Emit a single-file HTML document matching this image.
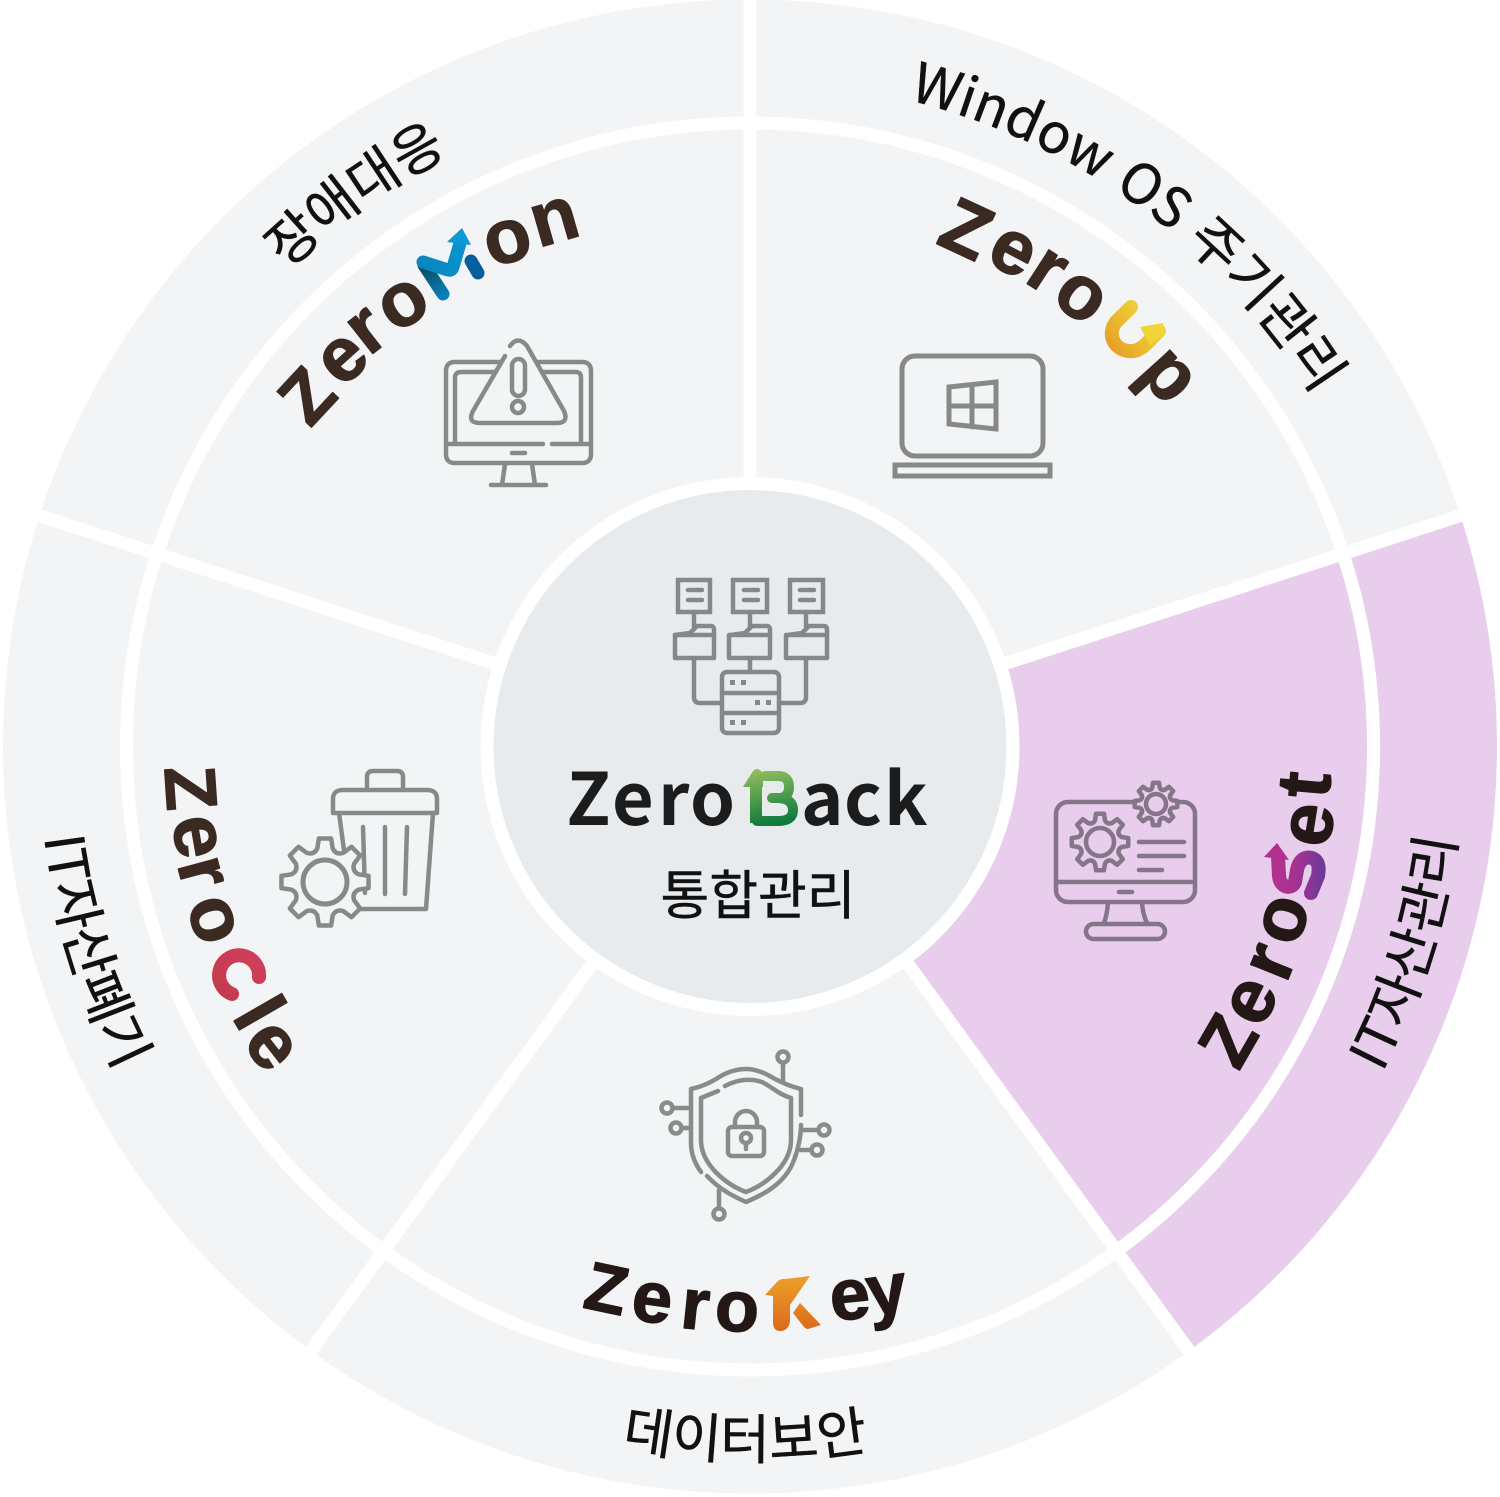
<!DOCTYPE html>
<html lang="ko">
<head>
<meta charset="utf-8">
<title>ZeroBack 통합관리</title>
<style>
html,body{margin:0;padding:0;background:#fff;width:1500px;height:1497px;overflow:hidden}
svg{display:block}
.lab{font-family:"Noto Sans CJK KR","Liberation Sans",sans-serif;font-weight:400;fill:#111;stroke:#111;stroke-width:.5}
.l{font-family:"Liberation Sans",sans-serif;font-weight:700;text-anchor:middle;stroke-width:1.4;stroke-linejoin:round}
.mo{fill:#3a2a22;stroke:#3a2a22;font-size:76px}
.ke{fill:#231815;stroke:#231815;font-size:72px}
.se{fill:#231815;stroke:#231815;font-size:76px}
.cl{fill:#3a2a22;stroke:#3a2a22;font-size:76px}
.ic{fill:none;stroke:#888a8a;stroke-width:4.5;stroke-linecap:round;stroke-linejoin:round}
.ip{fill:none;stroke:#857589;stroke-width:4.5;stroke-linecap:round;stroke-linejoin:round}
</style>
</head>
<body>
<svg width="1500" height="1497" viewBox="0 0 1500 1497" xmlns="http://www.w3.org/2000/svg">
<defs>
<path id="top665" d="M85,746 A665,665 0 0 1 1415,746"/>
<path id="top664" d="M86,746 A664,664 0 0 1 1414,746"/>
<path id="bot712" d="M38,746 A712,712 0 0 0 1462,746"/>
<path id="bot713" d="M37,746 A713,713 0 0 0 1463,746"/>
<path id="gear" vector-effect="non-scaling-stroke" d="M-17.5,-76 L-13.9,-99 L13.9,-99 L17.5,-76 Q25.3,-61 41.3,-66.1 L60.2,-79.9 L79.9,-60.2 L66.1,-41.3 Q61,-25.3 76,-17.5 L99,-13.9 L99,13.9 L76,17.5 Q61,25.3 66.1,41.3 L79.9,60.2 L60.2,79.9 L41.3,66.1 Q25.3,61 17.5,76 L13.9,99 L-13.9,99 L-17.5,76 Q-25.3,61 -41.3,66.1 L-60.2,79.9 L-79.9,60.2 L-66.1,41.3 Q-61,25.3 -76,17.5 L-99,13.9 L-99,-13.9 L-76,-17.5 Q-61,-25.3 -66.1,-41.3 L-79.9,-60.2 L-60.2,-79.9 L-41.3,-66.1 Q-25.3,-61 -17.5,-76Z"/>
<linearGradient id="gM" gradientUnits="userSpaceOnUse" x1="425" y1="265" x2="470" y2="235"><stop offset="0" stop-color="#0a86bf"/><stop offset="1" stop-color="#0b98d6"/></linearGradient>
<linearGradient id="gM2" gradientUnits="userSpaceOnUse" x1="424" y1="265" x2="443" y2="297"><stop offset="0" stop-color="#0c4a62"/><stop offset="1" stop-color="#0880bd"/></linearGradient>
<linearGradient id="gU" gradientUnits="userSpaceOnUse" x1="1112" y1="350" x2="1160" y2="315"><stop offset="0" stop-color="#e6a027"/><stop offset="1" stop-color="#f0de38"/></linearGradient>
<linearGradient id="gS" gradientUnits="userSpaceOnUse" x1="1270" y1="870" x2="1325" y2="870"><stop offset="0" stop-color="#b8318e"/><stop offset=".5" stop-color="#a23392"/><stop offset="1" stop-color="#693b98"/></linearGradient>
<linearGradient id="gB" gradientUnits="userSpaceOnUse" x1="760" y1="770" x2="770" y2="824"><stop offset="0" stop-color="#90bd5e"/><stop offset="1" stop-color="#0f7a3c"/></linearGradient>
<linearGradient id="gK" gradientUnits="userSpaceOnUse" x1="790" y1="1276" x2="790" y2="1330"><stop offset="0" stop-color="#ee9f2c"/><stop offset="1" stop-color="#dc6a1a"/></linearGradient>
<linearGradient id="gC" gradientUnits="userSpaceOnUse" x1="215" y1="1000" x2="265" y2="955"><stop offset="0" stop-color="#c23a4e"/><stop offset="1" stop-color="#d13f5a"/></linearGradient>
</defs>

<!-- discs -->
<circle cx="750" cy="746.5" r="747" fill="#f2f4f6"/>
<path d="M750,746.5 L1460.4,515.7 A747,747 0 0 1 1189,1350.8 Z" fill="#e8cdec"/>
<circle cx="750" cy="746.5" r="623.5" fill="none" stroke="#fff" stroke-width="13"/>
<g stroke="#fff" stroke-width="13">
<line x1="750" y1="746.5" x2="750" y2="-5"/>
<line x1="750" y1="746.5" x2="1470" y2="512.5"/>
<line x1="750" y1="746.5" x2="1195" y2="1359"/>
<line x1="750" y1="746.5" x2="305" y2="1359"/>
<line x1="750" y1="746.5" x2="30" y2="512.5"/>
</g>
<circle cx="750" cy="746.5" r="263" fill="#e8ebee" stroke="#fff" stroke-width="13"/>

<!-- outer labels -->
<g transform="rotate(36 750 746)"><text class="lab" font-size="55" text-anchor="middle"><textPath href="#top665" startOffset="50%">Window OS 주기관리</textPath></text></g>
<g transform="rotate(-35.6 750 746)"><text class="lab" font-size="54" text-anchor="middle"><textPath href="#top664" startOffset="50%">장애대응</textPath></text></g>
<g transform="rotate(-72.6 750 746)"><text class="lab" font-size="54" text-anchor="middle"><textPath href="#bot712" startOffset="50%">IT자산관리</textPath></text></g>
<g transform="rotate(72.7 750 746)"><text class="lab" font-size="54" text-anchor="middle"><textPath href="#bot712" startOffset="50%">IT자산폐기</textPath></text></g>
<g transform="rotate(0.4 750 746)"><text class="lab" font-size="54" text-anchor="middle"><textPath href="#bot713" startOffset="50%">데이터보안</textPath></text></g>

<!-- center -->
<g font-family="'Noto Sans CJK KR','Liberation Sans',sans-serif" font-weight="700" font-size="72" fill="#1c1c1c">
<text x="566.500" y="825">Z</text><text x="612" y="825">e</text><text x="658" y="825">r</text><text x="690" y="825">o</text>
<text x="801" y="825">a</text><text x="844" y="825">c</text><text x="884" y="825">k</text>
</g>
<text class="lab" x="758" y="914" font-size="53" text-anchor="middle">통합관리</text>
<g>
<path d="M765,776 L778,776 Q789,776 789,787 Q789,798 778,798 L772,798 M776,798 Q793,798 793,810 Q793,821 778,821 L757,821" fill="none" stroke="url(#gB)" stroke-width="10" stroke-linejoin="round" stroke-linecap="round"/>
<path d="M743,787 L753,771 Q757,767 761,771 L763,774 L763,787Z" fill="url(#gB)"/>
<rect x="750" y="785" width="12" height="38" fill="url(#gB)"/>
</g>
<!-- network icon -->
<g class="ic" style="stroke:#858789;stroke-width:4.5">
<path d="M678,580H710V612H678Z M733,580H767V612H733Z M790,580H823V612H790Z" stroke-linejoin="miter"/>
<path d="M688,590H702M688,600H702M744,590H758M744,600H758M800,590H814M800,600H814"/>
<path d="M675,635H714V658H675Z M729,635H770V658H729Z M786,635H827V658H786Z"/>
<path d="M675,635L690,633L697,626H711Q714,626 714,630V635M731,635L745,633L752,626H767Q770,626 770,630V635M788,635L802,633L809,626H824Q827,626 827,630V635"/>
<path d="M694,612V626M750,612V626M806,612V626"/>
<path d="M694,658V697Q694,703 700,703H721M806,658V697Q806,703 800,703H779M750,658V672"/>
<rect x="722" y="672" width="57" height="61" rx="5"/>
<path d="M722,693H779M722,713H779"/>
</g>
<g fill="#858789"><rect x="730" y="680" width="5" height="5"/><rect x="741" y="680" width="5" height="5"/><rect x="755" y="700" width="5" height="5"/><rect x="766" y="700" width="5" height="5"/><rect x="730" y="720" width="5" height="5"/><rect x="741" y="720" width="5" height="5"/></g>

<!-- ZeroMon -->
<text class="l mo" transform="translate(306 395) rotate(-47)" y="26" style="font-size:72px">Z</text>
<text class="l mo" transform="translate(344 360) rotate(-42)" y="20">e</text>
<text class="l mo" transform="translate(368 332) rotate(-38)" y="20">r</text>
<text class="l mo" transform="translate(404 305) rotate(-32)" y="20">o</text>
<text class="l mo" transform="translate(508 242) rotate(-17)" y="20">o</text>
<text class="l mo" transform="translate(555 222) rotate(-16)" y="20">n</text>
<g fill="none" stroke-linecap="round" stroke-linejoin="round" stroke-width="13">
<path d="M424,265 L443,294" stroke="url(#gM2)"/>
<path d="M423,262 L448,270 Q452,271 453,267 L461,240" stroke="url(#gM)"/>
<path d="M471,261 L478,273" stroke="#045f9c"/>
</g>
<polygon points="447,242 462,228 471,245" fill="#0b98d6"/>
<!-- alert monitor -->
<g class="ic">
<path d="M500,362H455Q446,362 446,371V454Q446,463 455,463H582Q591,463 591,454V371Q591,362 582,362H537"/>
<path d="M494,372H461Q455,372 455,378V443M543,372H576Q581,372 581,378V443"/>
<path d="M447,444H543M552,444H590"/>
<path d="M505,464L502,485M532,464L535,485M491,485H546M512,453H525"/>
<path d="M505,356L473,411Q467,423 480,423H557Q569,423 564,411L527,346Q518,335 510,346"/>
<rect x="512" y="359" width="13" height="37" rx="6.5"/>
<circle cx="518" cy="407" r="6"/>
</g>

<!-- ZeroUp -->
<text class="l mo" transform="translate(967 228) rotate(25)" y="27" style="font-size:76px">Z</text>
<text class="l mo" transform="translate(1012 253) rotate(28)" y="20">e</text>
<text class="l mo" transform="translate(1046 272) rotate(33)" y="20">r</text>
<text class="l mo" transform="translate(1080 298) rotate(36)" y="20">o</text>
<text class="l mo" transform="translate(1167 377) rotate(48)" y="20">p</text>
<path d="M1131,307 L1116,322 C1108,332 1112,346 1124,350 C1133,353 1140,350 1146,344 L1159,331" fill="none" stroke="url(#gU)" stroke-width="14" stroke-linecap="round" stroke-linejoin="round"/>
<polygon points="1140,327 1163,323 1165,333 1150,345" fill="#efd636"/>
<!-- laptop -->
<g class="ic" style="stroke-width:5;stroke:#878888">
<rect x="902" y="356" width="141" height="100" rx="13"/>
<rect x="895" y="465" width="155" height="11" stroke-linejoin="miter"/>
<path d="M949,387L996,382V429L949,424Z M972,385V427 M949,406H996" stroke-linejoin="miter"/>
</g>

<!-- ZeroSet -->
<text class="l se" transform="translate(1227 1040) rotate(-60)" y="26" style="font-size:72px">Z</text>
<text class="l se" transform="translate(1253 1002) rotate(-64)" y="20">e</text>
<text class="l se" transform="translate(1273 963) rotate(-68)" y="20">r</text>
<text class="l se" transform="translate(1285 920) rotate(-74)" y="20">o</text>
<text class="l se" transform="translate(1312 825) rotate(-81)" y="20">e</text>
<text class="l se" transform="translate(1307 785) rotate(-85)" y="23">t</text>
<path d="M1278,857 L1279,876 C1280,888 1292,890 1295,882 L1297,870 C1299,860 1305,856 1312,858 C1320,861 1319,870 1318,876 L1311,893" fill="none" stroke="url(#gS)" stroke-width="14" stroke-linecap="round" stroke-linejoin="round"/>
<polygon points="1264,857 1277,843 1289,860" fill="#b0318f"/>
<!-- settings monitor -->
<g class="ip">
<rect x="1056" y="802" width="139" height="100" rx="12"/>
<path d="M1056,882H1195M1119,892H1132"/>
<path d="M1108,903Q1107,915 1104,923M1142,903Q1143,915 1147,923"/>
<rect x="1086" y="924" width="79" height="15" rx="7.5"/>
<path d="M1139,842H1184M1139,856H1184M1139,870H1162"/>
<g transform="translate(1100 842) scale(.285)"><use href="#gear"/></g>
<circle cx="1100" cy="842" r="14"/>
<g transform="translate(1156 804) scale(.215)" style="fill:#e8cdec"><use href="#gear"/></g>
<circle cx="1156" cy="804" r="10"/>
</g>

<!-- ZeroKey -->
<text class="l ke" transform="translate(607 1287) rotate(12)" y="25" style="font-size:68px">Z</text>
<text class="l ke" transform="translate(652 1303) rotate(8)" y="19">e</text>
<text class="l ke" transform="translate(695 1310) rotate(6)" y="19">r</text>
<text class="l ke" transform="translate(737 1312) rotate(3)" y="19">o</text>
<text class="l ke" transform="translate(850 1300) rotate(-6)" y="19">e</text>
<text class="l ke" transform="translate(887 1295) rotate(-8)" y="19">y</text>
<g fill="url(#gK)">
<path d="M765,1295 L776,1283 Q780,1278 785,1279 L810,1276 L790,1305 L790,1322 Q788,1331 780,1331 Q773,1331 773,1322 L773,1296Z"/>
<path d="M793,1313 L800,1303 L821,1325 L808,1329 Q806,1329 804,1327Z"/>
</g>
<!-- shield -->
<g class="ic" style="stroke:#8a8c8c">
<path d="M691,1108V1089C700,1087 708,1084 716,1079C725,1073 736,1069 746,1069C756,1069 765,1073 775,1079C785,1084 790,1086 801,1089V1115"/>
<path d="M691,1108V1143C691,1155 696,1165 701,1172"/>
<path d="M707,1176C720,1190 735,1197 746,1202C760,1196 785,1185 794,1160C800,1145 801,1130 801,1125"/>
<path d="M725,1086C738,1079 750,1078 762,1082C772,1087 780,1095 791,1098V1140C791,1165 765,1185 746,1192C727,1185 701,1165 701,1140V1098L718,1091"/>
<rect x="728" y="1127" width="36" height="29" rx="4"/>
<path d="M735,1127V1122A11,11 0 0 1 757,1122V1127"/>
<circle cx="746" cy="1138" r="5"/><path d="M746,1143V1149"/>
<circle cx="667" cy="1108" r="5.5"/><path d="M673,1108H691"/>
<circle cx="676" cy="1128" r="5.5"/><path d="M682,1128H691"/>
<circle cx="824" cy="1130" r="5.5"/><path d="M801,1130H818"/>
<circle cx="817" cy="1150" r="5.5"/><path d="M801,1150H811"/>
<circle cx="783" cy="1057" r="5.5"/><path d="M783,1063V1082"/>
<circle cx="719" cy="1214" r="5.5"/><path d="M719,1190V1208"/>
</g>

<!-- ZeroCle -->
<text class="l cl" transform="translate(192 788) rotate(86)" y="26" style="font-size:72px">Z</text>
<text class="l cl" transform="translate(195 837) rotate(80)" y="20">e</text>
<text class="l cl" transform="translate(200 873) rotate(75)" y="20">r</text>
<text class="l cl" transform="translate(212 920) rotate(72)" y="20">o</text>
<text class="l cl" transform="translate(260 1012) rotate(60)" y="27">l</text>
<text class="l cl" transform="translate(270 1047) rotate(52)" y="20">e</text>
<path d="M259,977 A20,20 0 1 0 232,994" fill="none" stroke="url(#gC)" stroke-width="14" stroke-linecap="round"/>
<!-- trash -->
<g class="ic">
<path d="M367,789V777Q367,771 373,771H397Q403,771 403,777V789"/>
<path d="M333,813V799Q333,790 343,790H427Q437,790 437,799V813Z"/>
<path d="M339,813L344,850M433,813L426,909H360"/>
<path d="M363,827L365,893M385,827V894M407,827L405,894"/>
<g transform="translate(325 882) scale(.44)" style="fill:#f2f4f6"><use href="#gear"/></g>
<circle cx="325" cy="882" r="22" stroke-width="5"/>
</g>
</svg>
</body>
</html>
